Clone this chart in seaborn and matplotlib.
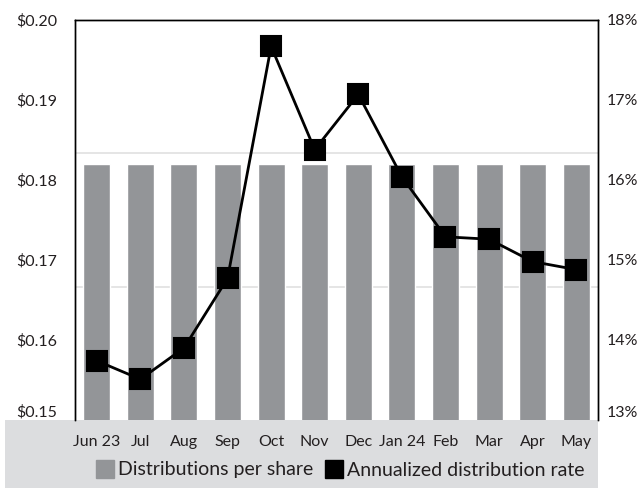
import matplotlib
matplotlib.use("Agg")
import matplotlib.pyplot as plt
from matplotlib.patches import Rectangle
from matplotlib.lines import Line2D
import seaborn as sns
import pandas as pd
import numpy as np

months = ["Jun 23", "Jul", "Aug", "Sep", "Oct", "Nov", "Dec", "Jan 24", "Feb", "Mar", "Apr", "May"]
distributions = [0.182] * 12
rates = [13.74, 13.51, 13.90, 14.77, 17.67, 16.38, 17.07, 16.04, 15.29, 15.26, 14.98, 14.88]
left_ticks = [0.15, 0.16, 0.17, 0.18, 0.19, 0.20]
left_labels = ["$0.15", "$0.16", "$0.17", "$0.18", "$0.19", "$0.20"]
right_ticks = [13, 14, 15, 16, 17, 18]
right_labels = ["13%", "14%", "15%", "16%", "17%", "18%"]

sns.set_theme(style="white")
plt.rcParams["font.family"] = ["Lato", "DejaVu Sans"]

df = pd.DataFrame({"month": months, "dist": distributions, "rate": rates})

W, H = 639, 488
fig = plt.figure(figsize=(W / 100, H / 100), dpi=100)
fig.patch.set_facecolor("white")
band = Rectangle((5 / W, 0), (598 - 5) / W, 68 / H, transform=fig.transFigure,
                 facecolor="#dcdddf", edgecolor="none", zorder=-10)
fig.patches.append(band)

ax = fig.add_axes([75 / W, 68 / H, 523 / W, 400 / H])
ax.set_zorder(1)
ax.set_facecolor("white")
sns.barplot(data=df, x="month", y="dist", color="#939598", width=0.62, ax=ax,
            saturation=1, zorder=2)
ax.set_ylim(0.15, 0.20)
ax.set_xlim(-0.5, 11.5)
ax.set_yticks(left_ticks)
ax.set_yticklabels(left_labels)
ax.set_yticks([0.15 + 0.05 / 3, 0.15 + 0.10 / 3], minor=True)
ax.grid(which="minor", axis="y", color="#e0e0e0", linewidth=1.2, zorder=1)
ax.grid(which="major", visible=False)
ax.set_axisbelow(True)
ax.set_xlabel("")
ax.set_ylabel("")
ax.tick_params(axis="y", which="both", length=0, pad=13, labelsize=11.5, colors="#231f20")
ax.tick_params(axis="x", length=0, pad=11, labelsize=11.5, colors="#231f20")
ax.get_yticklabels()[0].set_va("bottom")
for s in ["left", "top", "right"]:
    ax.spines[s].set_color("black")
    ax.spines[s].set_linewidth(1)
ax.spines["bottom"].set_visible(False)

ax2 = ax.twinx()
sns.pointplot(data=df, x="month", y="rate", color="black", marker="s", markersize=15,
              linewidth=2, ax=ax2, zorder=5)
ax2.set_ylim(13, 18)
ax2.set_xlim(-0.5, 11.5)
ax2.set_yticks(right_ticks)
ax2.set_yticklabels(right_labels)
ax2.set_ylabel("")
ax2.set_xlabel("")
ax2.tick_params(axis="y", length=0, pad=6, labelsize=11.5, colors="#231f20")
ax2.get_yticklabels()[0].set_va("bottom")
for s in ["left", "top", "right"]:
    ax2.spines[s].set_color("black")
    ax2.spines[s].set_linewidth(1)
ax2.spines["bottom"].set_visible(False)
ax2.grid(False)

handles = [Line2D([], [], marker="s", linestyle="none", color="#939598", markersize=13),
           Line2D([], [], marker="s", linestyle="none", color="black", markersize=13)]
fig.legend(handles, ["Distributions per share", "Annualized distribution rate"],
           loc="center", bbox_to_anchor=(340 / W, 18 / H), ncol=2, frameon=False,
           fontsize=14, handletextpad=0.15, columnspacing=0.6, handlelength=1.0,
           labelcolor="#231f20")

fig.savefig("out.png", dpi=100)
